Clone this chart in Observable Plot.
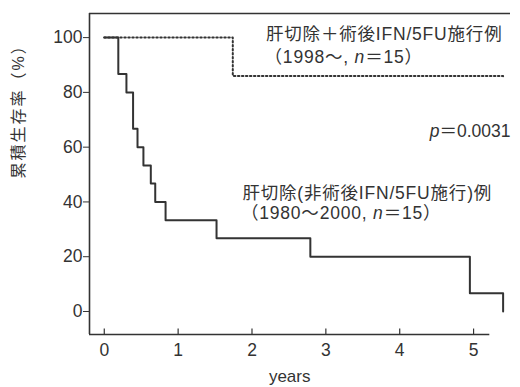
<!DOCTYPE html>
<html><head><meta charset="utf-8">
<script src="https://cdn.jsdelivr.net/npm/d3@7"></script>
<script src="https://cdn.jsdelivr.net/npm/@observablehq/plot@0.6"></script>
<style>
body{margin:0;background:#fff;}
svg{font-family:"Liberation Sans","Noto Sans CJK JP",sans-serif;}
</style></head>
<body><div id="chart"></div>
<script>
// Kaplan-Meier steps: time (years), survival (%)
const ctrlTime = [0, 0.19, 0.30, 0.39, 0.45, 0.53, 0.63, 0.69, 0.83, 1.52, 2.79, 4.95, 5.40, 5.40];
const ctrlSurv = [100, 86.7, 80, 66.7, 60, 53.3, 46.7, 40, 33.3, 26.7, 20, 6.7, 6.7, 0];
const ifnTime = [0, 1.74, 5.40];
const ifnSurv = [100, 86, 85];
const xTicks = [0, 1, 2, 3, 4, 5];
const yTicks = [0, 20, 40, 60, 80, 100];
const startLabels = [
  {t: "肝切除＋術後IFN/5FU施行例", x: 2.19, y: 101.1},
  {t: "（1998～, n＝15）", x: 2.17, y: 92.7},
  {t: "肝切除(非術後IFN/5FU施行)例", x: 1.87, y: 43.3},
  {t: "（1980～2000, n＝15）", x: 1.85, y: 35.8}
];
const endLabels = [
  {t: "p＝0.0031", x: 5.5, y: 65.7}
];
const yTitle = "累積生存率（%）";
const xTitle = "years";

const ctrl = ctrlTime.map((t, i) => ({t, s: ctrlSurv[i]}));
const ifn = ifnTime.map((t, i) => ({t, s: ifnSurv[i]}));
const X0 = -0.2, X1 = 5.5, Y0 = -8.4, Y1 = 108.8;
const ink = "#333";

const chart = Plot.plot({
  width: 520, height: 387,
  marginLeft: 89, marginRight: 10, marginTop: 13, marginBottom: 53,
  x: {domain: [X0, X1]},
  y: {domain: [Y0, Y1]},
  style: {fontSize: "16px", color: ink, background: "#fff"},
  marks: [
    Plot.axisY(yTicks, {tickSize: 6, tickPadding: 1, label: null, stroke: ink, fill: ink, fontSize: 17.5}),
    Plot.axisX(xTicks, {tickSize: 0, tickPadding: 9, label: null, fill: ink, fontSize: 17.5}),
    Plot.ruleX(xTicks, {x: d => d, y1: Y0, y2: Y0 + 2, stroke: ink, strokeWidth: 1.2}),
    Plot.ruleX([X0], {y1: Y0, y2: Y1, stroke: ink, strokeWidth: 1.6}),
    Plot.ruleY([Y0], {x1: X0, x2: 5.22, stroke: ink, strokeWidth: 1.6}),
    Plot.ruleY([Y1], {x1: X0, x2: X1, stroke: ink, strokeWidth: 1.6}),
    Plot.line(ctrl, {x: "t", y: "s", curve: "step-after", stroke: ink, strokeWidth: 2}),
    Plot.line(ifn, {x: "t", y: "s", curve: "step-after", stroke: ink, strokeWidth: 2, strokeDasharray: "1.5,2.5"}),
    Plot.text(startLabels, {x: "x", y: "y", text: "t", textAnchor: "start", fill: ink, fontSize: 17.5}),
    Plot.text(endLabels, {x: "x", y: "y", text: "t", textAnchor: "end", fill: ink, fontSize: 17.5}),
    Plot.text([yTitle], {frameAnchor: "left", y: 48.6, dx: -71, rotate: -90, fill: ink, fontSize: 16}),
    Plot.text([xTitle], {x: 2.51, frameAnchor: "bottom", dy: 47, fill: ink, fontSize: 17})
  ]
});
d3.select(chart).selectAll("text").each(function() {
  const s = this.textContent;
  if (/[肝累（(]/.test(s)) this.style.letterSpacing = s === yTitle ? "2px" : "0.8px";
  if (s.includes("n＝") || s.startsWith("p＝")) {
    const sym = s.includes("n＝") ? "n" : "p";
    const i = s.indexOf(sym + "＝");
    const el = d3.select(this); el.text(null);
    el.append("tspan").text(s.slice(0, i));
    el.append("tspan").attr("font-style", "italic").text(sym);
    el.append("tspan").text(s.slice(i + 1));
  }
});
document.getElementById("chart").append(chart);
</script></body></html>
